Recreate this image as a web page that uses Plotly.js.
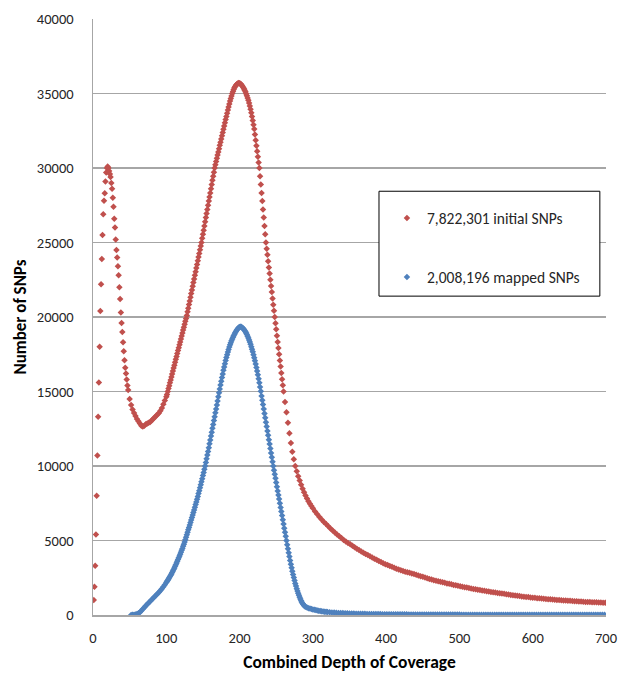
<!DOCTYPE html>
<html>
<head>
<meta charset="utf-8">
<script src="https://cdn.plot.ly/plotly-3.0.1.min.js"></script>
<style>
  html, body { margin: 0; padding: 0; background: #fff; }
  #chart { width: 623px; height: 673px; }
</style>
</head>
<body>
<div id="chart"></div>
<script>
// ---- Data ----
const seriesNames = ['7,822,301 initial SNPs', '2,008,196 mapped SNPs'];

const redDepth = [
  1,2,3,4,5,6,7,8,9,10,11,12,13,14,15,16,17,18,19,20,21,22,23,24,25,26,27,28,29,30,31,32,33,34,35,36,37,38,39,40,41,42,43,44,45,46,47,48,
  50,52,54,56,58,60,62,64,66,68,70,72,74,76,78,80,82,84,86,88,90,92,94,96,98,100,
  101,102,103,104,105,106,107,108,109,110,111,112,113,114,115,116,117,118,119,120,
  121,122,123,124,125,126,127,128,129,130,131,132,133,134,135,136,137,138,139,140,
  141,142,143,144,145,146,147,148,149,150,151,152,153,154,155,156,157,158,159,160,
  161,162,163,164,165,166,167,168,169,170,171,172,173,174,175,176,177,178,179,180,
  181,182,183,184,185,186,187,188,189,190,191,192,193,194,195,196,197,198,199,200,
  201,202,203,204,205,206,207,208,209,210,211,212,213,214,215,216,217,218,219,220,
  221,222,223,224,225,226,227,228,229,230,231,232,233,234,235,236,237,238,239,240,
  241,242,243,244,245,246,247,248,249,250,251,252,253,254,255,256,257,258,259,260,
  262,264,266,268,270,272,274,276,278,280,282,284,286,288,290,292,294,296,298,300,
  303,306,309,312,315,318,321,324,327,330,333,336,339,
  342,345,348,351,354,357,360,363,366,369,372,375,378,381,384,387,390,393,396,399,402,405,408,411,414,417,420,
  423,426,429,432,435,438,441,444,447,450,453,456,459,462,465,468,471,474,477,480,
  483,486,489,492,495,498,501,504,507,510,513,516,519,522,525,528,531,534,537,540,
  543,546,549,552,555,558,561,564,567,570,573,576,579,582,585,588,591,594,597,600,
  603,606,609,612,615,618,621,624,627,630,633,636,639,642,645,648,651,654,657,660,
  663,666,669,672,675,678,681,684,687,690,693,696,699
];
const redCount = [
  1000,1900,3300,5400,8000,10700,13300,15600,18000,20400,
  22200,23900,25500,26900,27800,28300,29100,29700,30000,30100,
  30000,29800,29600,29400,29000,28600,28000,27400,26600,26000,
  25200,24500,24000,23400,22800,22000,21200,20300,
  19600,19000,18300,17700,17100,16600,16200,15800,15400,15100,
  14500,14100,13800,13550,13350,13150,13000,12850,12700,12650,
  12700,12800,12850,12900,12950,13050,13150,13250,13350,13450,
  13550,13700,13900,14150,14400,14650,
  14800,15000,15200,15390,15590,15780,15980,16180,16370,16570,
  16760,16960,17160,17350,17550,17750,17940,18140,18330,18530,
  18730,18920,19120,19310,19510,19710,19900,20100,20350,20590,
  20840,21080,21330,21570,21820,22060,22310,22550,22800,23040,
  23290,23530,23780,24020,24270,24510,24760,25000,25280,25560,
  25830,26110,26390,26670,26940,27220,27500,27780,28060,28330,
  28610,28890,29170,29440,29720,30000,30220,30430,30650,30870,
  31080,31300,31520,31730,31950,32170,32380,32600,32820,33030,
  33250,33460,33680,33890,34100,34300,34490,34670,34840,35000,
  35140,35270,35380,35470,35550,35610,35660,35690,35700,35690,
  35660,35620,35560,35490,35410,35320,35220,35110,34990,34850,
  34700,34540,34360,34160,33940,33710,33460,33190,32910,32620,
  32250,31870,31500,31120,30750,30370,30000,29440,28890,28330,
  27780,27220,26670,26110,25560,25000,24580,24170,23750,23330,
  22920,22500,22080,21670,21250,20830,20420,20000,19580,19170,
  18750,18330,17920,17500,17080,16670,16250,15830,15420,15000,
  14300,13600,12900,12200,11550,10950,10450,10000,9650,9320,
  9020,8740,8480,8240,8020,7820,7640,7470,7310,7160,
  6950,6760,6580,6410,6250,6100,5950,5810,5670,5540,5410,5280,5160,
  5040,4940,4840,4740,4640,4540,4450,4360,4270,4180,
  4100,4020,3940,3860,3780,3700,3620,3550,3480,3410,
  3350,3290,3230,3170,3110,3060,3000,
  2960,2910,2870,2830,2790,2750,2700,2650,2600,2560,
  2510,2470,2420,2380,2340,2300,2260,2230,2190,2160,
  2120,2090,2060,2020,1990,1960,1930,1900,1870,1840,
  1810,1780,1750,1720,1700,1670,1640,1620,1590,1570,
  1550,1530,1510,1480,1460,1440,1420,1390,1370,1350,
  1330,1310,1290,1270,1250,1230,1210,1200,1180,1160,
  1150,1130,1120,1100,1090,1070,1060,1050,1040,1020,
  1010,1000,990,980,970,960,950,940,930,920,
  910,900,890,880,870,870,860,850,850,
  840,840,830,830
];

const blueDepth = [
  52,54,56,58,60,62,64,66,68,70,72,74,76,78,80,82,84,86,88,90,92,94,96,98,100,
  101,102,103,104,105,106,107,108,109,110,111,112,113,114,115,116,117,118,119,120,
  121,122,123,124,125,126,127,128,129,130,131,132,133,134,135,136,137,138,139,140,
  141,142,143,144,145,146,147,148,149,150,151,152,153,154,155,156,157,158,159,160,
  161,162,163,164,165,166,167,168,169,170,171,172,173,174,175,176,177,178,179,180,
  181,182,183,184,185,186,187,188,189,190,191,192,193,194,195,196,197,198,199,200,
  201,202,203,204,205,206,207,208,209,210,211,212,213,214,215,216,217,218,219,220,
  221,222,223,224,225,226,227,228,229,230,231,232,233,234,235,236,237,238,239,240,
  241,242,243,244,245,246,247,248,249,250,251,252,253,254,255,256,257,258,259,260,
  261,262,263,264,265,266,267,268,269,270,271,272,273,274,275,276,277,278,279,280,
  281,282,283,284,285,286,287,288,289,290,
  292,294,296,298,300,302,304,306,308,310,312,314,316,318,320,
  323,326,329,332,335,338,341,344,347,350,353,356,359,362,365,368,371,374,377,380,
  383,386,389,392,395,398,401,404,407,410,413,416,419,422,425,428,431,434,437,440,
  443,446,449,452,455,458,461,464,467,470,473,476,479,482,485,488,491,494,497,500,
  503,506,509,512,515,518,521,524,527,530,533,536,539,542,545,548,551,554,557,560,
  563,566,569,572,575,578,581,584,587,590,593,596,599,602,605,608,611,614,617,620,
  623,626,629,632,635,638,641,644,647,650,653,656,659,662,665,668,671,674,677,680,
  683,686,689,692,695,698
];
const blueCount = [
  0,10,20,40,70,110,180,290,400,510,
  620,720,820,920,1020,1120,1220,1320,1420,1520,
  1640,1770,1900,2030,2180,
  2260,2340,2420,2500,2580,2670,2760,2860,2960,3060,
  3160,3270,3380,3490,3600,3720,3840,3960,4080,4210,
  4340,4470,4610,4750,4900,5050,5210,5380,5550,5720,
  5880,6040,6200,6370,6540,6710,6880,7050,7230,7410,
  7590,7770,7960,8150,8340,8540,8740,8940,9150,9360,
  9570,9780,10000,10240,10480,10730,10980,11230,11490,11750,
  12010,12270,12530,12790,13050,13310,13570,13830,14100,14370,
  14640,14910,15170,15430,15690,15940,16180,16420,16650,16870,
  17080,17280,17470,17650,17820,17980,18130,18270,18400,18520,
  18640,18750,18850,18940,19030,19110,19180,19240,19290,19330,
  19350,19340,19310,19270,19220,19160,19090,19010,18920,18820,
  18710,18590,18460,18320,18170,18010,17840,17660,17470,17270,
  17060,16840,16610,16370,16120,15860,15590,15310,15020,14700,
  14410,14120,13820,13530,13240,12940,12650,12350,12060,11760,
  11470,11180,10880,10590,10290,10000,9720,9440,9170,8890,
  8610,8330,8060,7780,7500,7220,6940,6670,6390,6110,
  5830,5560,5280,5000,4720,4450,4180,3920,3660,3410,
  3170,2940,2720,2510,2310,2120,1940,1770,1610,1460,
  1320,1190,1070,960,860,770,700,640,590,550,
  500,460,430,400,370,350,330,310,290,270,250,240,220,210,200,
  185,172,160,150,141,133,126,119,113,107,
  102,97,92,88,84,80,77,74,71,68,
  66,63,61,59,57,55,53,52,50,49,
  47,46,45,44,43,42,41,40,39,38,
  37,36,35,35,34,33,33,32,31,31,
  30,30,29,29,28,28,27,27,26,26,
  25,25,25,24,24,23,23,23,22,22,
  22,21,21,21,20,20,20,19,19,19,
  19,18,18,18,18,17,17,17,17,16,
  16,16,16,15,15,15,15,15,14,14,
  14,14,14,13,13,13,13,13,12,12,
  12,12,12,12,11,11,11,11,11,11,
  10,10,10,10,10,10
];

const xTicks = [0, 100, 200, 300, 400, 500, 600, 700];
const yTicks = [0, 5000, 10000, 15000, 20000, 25000, 30000, 35000, 40000];

// ---- Chart ----
const FONT = 'Carlito, Lato, "Open Sans", sans-serif';
const TXT = '#262626';

const traces = [
  {
    type: 'scatter', mode: 'markers', name: seriesNames[0], legendgroup: 'a',
    x: redDepth, y: redCount,
    marker: { symbol: 'diamond', size: 5, color: '#C0504D', line: { width: 0 } }
  },
  {
    type: 'scatter', mode: 'markers', name: seriesNames[1], legendgroup: 'b',
    x: blueDepth, y: blueCount,
    marker: { symbol: 'diamond', size: 5, color: '#4F81BD', line: { width: 0 } }
  }
];

const layout = {
  width: 623, height: 673,
  margin: { l: 93, r: 17, t: 19, b: 58, pad: 0 },
  paper_bgcolor: '#ffffff', plot_bgcolor: '#ffffff',
  font: { family: FONT, size: 14, color: TXT },
  showlegend: true,
  legend: {
    x: 0.573, y: 0.694, xanchor: 'left', yanchor: 'top',
    bgcolor: 'rgba(0,0,0,0)', borderwidth: 0,
    traceorder: 'grouped', tracegroupgap: 36,
    font: { family: FONT, size: 15.5, color: TXT },
    itemwidth: 30
  },
  xaxis: {
    range: [0, 700], tickvals: xTicks, ticktext: xTicks.map(String),
    showgrid: false, zeroline: false,
    showline: true, linecolor: '#a6a6a6', linewidth: 1.5,
    ticks: '', ticklabelstandoff: 9,
    tickfont: { family: FONT, size: 14.5, color: TXT },
    title: { text: 'Combined Depth of Coverage', standoff: 14,
             font: { family: FONT, size: 17.5, color: '#000', weight: 'bold' } },
    fixedrange: true
  },
  yaxis: {
    range: [0, 40000], tickvals: yTicks, ticktext: yTicks.map(String),
    showgrid: true, gridcolor: '#a6a6a6', gridwidth: 1.5,
    zeroline: false,
    showline: true, linecolor: '#a6a6a6', linewidth: 1.5,
    ticks: '', ticklabelstandoff: 15,
    tickfont: { family: FONT, size: 14.5, color: TXT },
    title: { text: 'Number of SNPs', standoff: 6,
             font: { family: FONT, size: 17, color: '#000', weight: 'bold' } },
    fixedrange: true
  },
  shapes: [{
    type: 'rect', xref: 'paper', yref: 'paper',
    x0: 0.5575, x1: 0.988, y0: 0.535, y1: 0.711,
    line: { color: '#000000', width: 1 }, fillcolor: '#ffffff', layer: 'above'
  }]
};

Plotly.newPlot('chart', traces, layout, { displayModeBar: false, staticPlot: true });
</script>
</body>
</html>
